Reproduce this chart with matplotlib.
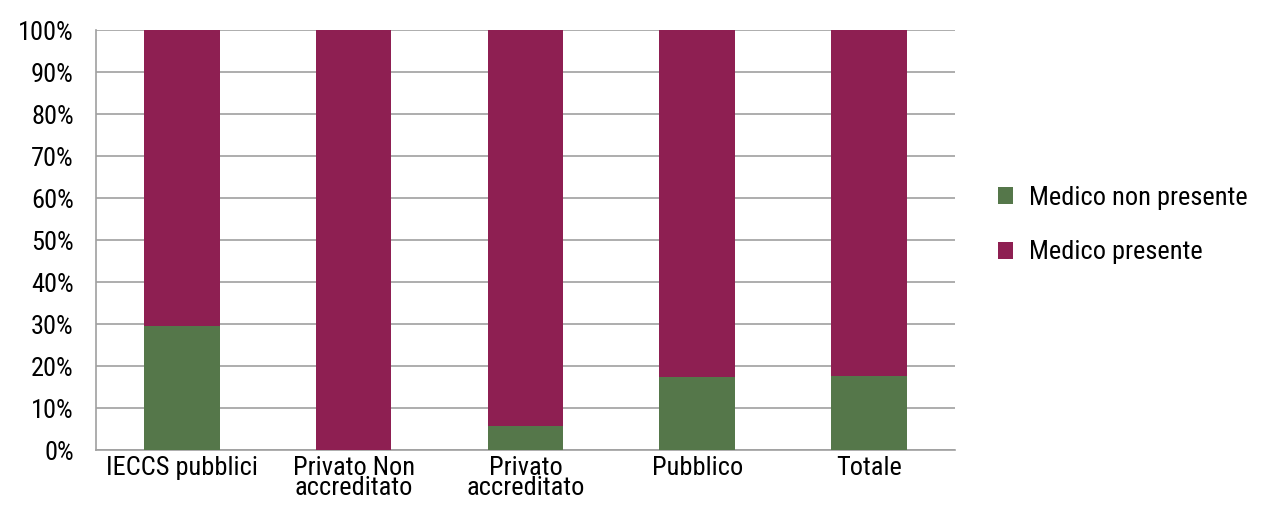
import matplotlib.pyplot as plt
import numpy as np

categories = ["IECCS pubblici", "Privato Non\naccreditato", "Privato\naccreditato", "Pubblico", "Totale"]
non_presente = [29.6, 0.0, 5.6, 17.5, 17.7]
presente = [70.4, 100.0, 94.4, 82.5, 82.3]
series_labels = ["Medico non presente", "Medico presente"]
colors = ["#55774A", "#8E1F52"]

plt.rcParams['font.family'] = ['Roboto Condensed', 'DejaVu Sans']
fs = 19

fig = plt.figure(figsize=(12.65, 5.13), dpi=100)
ax = fig.add_axes([0.0759, 0.1228, 0.679, 0.8187])

x = np.arange(len(categories))
w = 0.44
ax.bar(x, non_presente, w, color=colors[0], label=series_labels[0], zorder=3)
ax.bar(x, presente, w, bottom=non_presente, color=colors[1], label=series_labels[1], zorder=3)

ax.set_xlim(-0.5, len(categories) - 0.5)
ax.set_ylim(0, 100)
ax.set_yticks(range(0, 101, 10))
ax.set_yticklabels([f"{v}%" for v in range(0, 101, 10)], fontsize=fs)
ax.set_xticks(x)
ax.set_xticklabels(categories, fontsize=fs, linespacing=0.8)
ax.tick_params(axis='y', length=0, pad=16)
ax.tick_params(axis='x', length=0, pad=4)
ax.yaxis.grid(True, color="#A0A0A0", linewidth=1.2, zorder=0)
for s in ["top", "right"]:
    ax.spines[s].set_visible(False)
ax.spines["left"].set_color("#A0A0A0")
ax.spines["bottom"].set_color("#A0A0A0")
ax.spines["left"].set_linewidth(1.2)
ax.spines["bottom"].set_linewidth(1.2)

ax.legend(loc="center left", bbox_to_anchor=(1.022, 0.535), frameon=False, fontsize=fs,
          handlelength=0.6, handleheight=0.6, labelspacing=1.15, handletextpad=0.6)

fig.savefig("out.png", dpi=100)
